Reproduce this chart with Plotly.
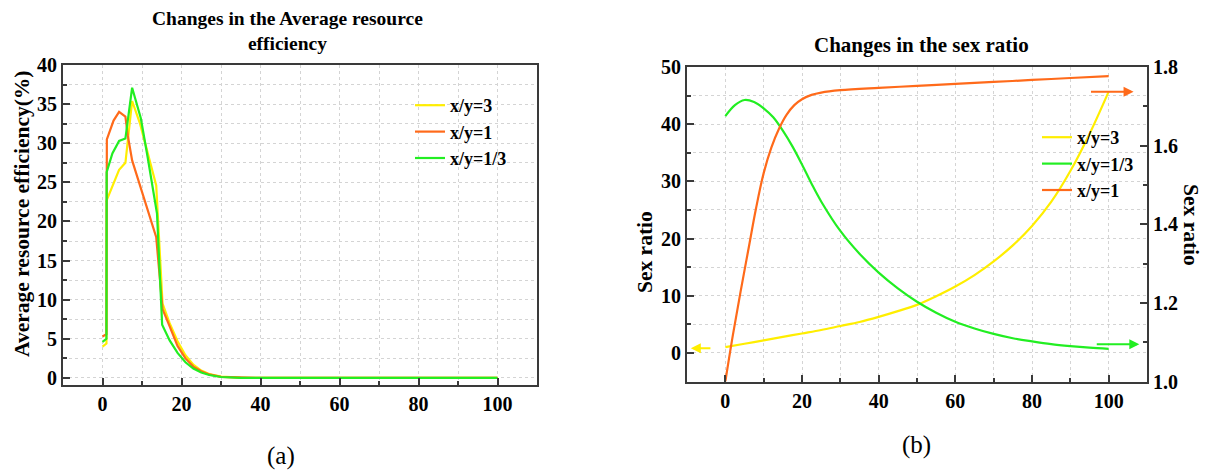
import plotly.graph_objects as go

W, H = 1210, 471
PAGE_OFFSET = 8  # default body margin of the html page
SERIF = "Liberation Serif"

# ---------------- Panel (a): Average resource efficiency (%) ----------------
a_ratio3_x = [0, 1, 1.05, 4.2, 5.8, 7.5, 9.5, 13.6, 15.2, 17, 19, 21, 23, 25, 27, 30, 35, 40, 100]
a_ratio3_y = [4.0, 4.4, 22.7, 26.6, 27.5, 35.4, 32.5, 24.6, 9.5, 7.0, 4.7, 2.9, 1.7, 0.95, 0.5, 0.17, 0.03, 0.0, 0.0]

a_ratio1_x = [0, 1, 1.1, 2.8, 4.2, 5.8, 6.4, 7.5, 13.6, 15.2, 17, 19, 21, 23, 25, 27, 30, 35, 40, 100]
a_ratio1_y = [5.3, 5.6, 30.5, 32.9, 34.0, 33.4, 31.0, 27.8, 18.0, 8.8, 6.6, 4.1, 2.5, 1.45, 0.85, 0.45, 0.15, 0.03, 0.0, 0.0]

a_ratio13_x = [0, 1, 1.05, 2.5, 4.2, 5.8, 7.5, 9.7, 11.4, 13.8, 15.1, 17, 19, 21, 23, 25, 27, 30, 35, 40, 100]
a_ratio13_y = [4.6, 5.0, 26.3, 28.7, 30.3, 30.6, 37.1, 33.2, 28.3, 21.0, 6.8, 4.8, 3.2, 2.0, 1.2, 0.7, 0.38, 0.12, 0.02, 0.0, 0.0]

# ---------------- Panel (b): Sex ratio ----------------
b_ratio3_x = [0, 5, 10, 15, 20, 25, 30, 35, 40, 45, 50, 55, 60, 65, 70, 75, 80, 85, 90, 95, 100]
b_ratio3_y = [1.0, 1.6, 2.2, 2.8, 3.4, 4.0, 4.7, 5.4, 6.3, 7.3, 8.4, 9.9, 11.6, 13.6, 16.0, 18.8,
              22.2, 26.4, 31.8, 38.3, 45.7]

b_ratio13_x = [0, 2.5, 5, 7.5, 10, 12.5, 15, 17.5, 20, 22.5, 25, 30, 35, 40, 45, 50, 55, 60, 65,
               70, 75, 80, 85, 90, 95, 100]
b_ratio13_y = [1.675, 1.703, 1.716, 1.711, 1.695, 1.672, 1.638, 1.598, 1.552, 1.503, 1.458, 1.383,
               1.325, 1.277, 1.237, 1.203, 1.175, 1.152, 1.135, 1.121, 1.110, 1.102, 1.095, 1.090,
               1.086, 1.083]

b_ratio1_x = [0, 2, 4, 6, 8, 10, 12, 14, 16, 18, 20, 22.5, 25, 30, 40, 50, 60, 70, 80, 90, 100]
b_ratio1_y = [1.0, 1.12, 1.23, 1.335, 1.44, 1.53, 1.595, 1.643, 1.679, 1.703, 1.718, 1.729, 1.735,
              1.741, 1.747, 1.752, 1.757, 1.762, 1.767, 1.772, 1.777]

# axis-indicator arrows (panel b): [tail_x, head_x, y]
arrow_ratio3 = [-3.5, -9.0, 0.8]     # points to left axis
arrow_ratio1 = [95.0, 106.5, 1.737]  # points to right axis
arrow_ratio13 = [96.5, 108.0, 1.095]  # points to right axis

YELLOW = "#FFEE00"
ORANGE = "#FF6A1A"
GREEN = "#22EE22"
AXC = "#3a3a3a"
GRID = "#d4d4d4"


def px(xp):
    return (xp - PAGE_OFFSET) / W


def py(yp):
    return 1 - (yp - PAGE_OFFSET) / H


fig = go.Figure()

line_w = 2.2
fig.add_trace(go.Scatter(x=a_ratio3_x, y=a_ratio3_y, mode="lines", name="x/y=3",
                         line=dict(color=YELLOW, width=line_w), xaxis="x", yaxis="y", legend="legend"))
fig.add_trace(go.Scatter(x=a_ratio1_x, y=a_ratio1_y, mode="lines", name="x/y=1",
                         line=dict(color=ORANGE, width=line_w), xaxis="x", yaxis="y", legend="legend"))
fig.add_trace(go.Scatter(x=a_ratio13_x, y=a_ratio13_y, mode="lines", name="x/y=1/3",
                         line=dict(color=GREEN, width=line_w), xaxis="x", yaxis="y", legend="legend"))

fig.add_trace(go.Scatter(x=b_ratio3_x, y=b_ratio3_y, mode="lines", name="x/y=3",
                         line=dict(color=YELLOW, width=line_w, shape="spline"),
                         xaxis="x2", yaxis="y2", legend="legend2"))
fig.add_trace(go.Scatter(x=b_ratio13_x, y=b_ratio13_y, mode="lines", name="x/y=1/3",
                         line=dict(color=GREEN, width=line_w, shape="spline"),
                         xaxis="x2", yaxis="y3", legend="legend2"))
fig.add_trace(go.Scatter(x=b_ratio1_x, y=b_ratio1_y, mode="lines", name="x/y=1",
                         line=dict(color=ORANGE, width=line_w, shape="spline"),
                         xaxis="x2", yaxis="y3", legend="legend2"))

tickfont = dict(family=SERIF, size=20, color="black", weight="bold")
common = dict(showline=True, linecolor=AXC, linewidth=2, ticks="inside", ticklen=7,
              tickwidth=1.5, tickcolor=AXC, tickfont=tickfont, showgrid=True, gridcolor=GRID,
              griddash="dot", gridwidth=1, zeroline=False, automargin=False)


def minor(d):
    return dict(dtick=d, ticks="inside", ticklen=4, tickcolor=AXC, showgrid=True,
                gridcolor=GRID, griddash="dot", gridwidth=1)


top_axis = dict(side="top", range=[-10, 110], tickmode="linear", tick0=0, dtick=20,
                ticks="inside", ticklen=7, tickwidth=1.5, tickcolor=AXC, showticklabels=False,
                showgrid=False, showline=False, zeroline=False, automargin=False,
                minor=dict(dtick=10, ticks="inside", ticklen=4, tickcolor=AXC, showgrid=False))

dom_a_x = [px(63), px(537)]
dom_a_y = [py(385), py(65)]
dom_b_x = [px(687), px(1147)]
dom_b_y = [py(381.5), py(67)]

legend_font = dict(family=SERIF, size=18, color="black", weight="bold")

fig.update_layout(
    width=W, height=H, margin=dict(l=0, r=0, t=0, b=0, autoexpand=False),
    paper_bgcolor="white", plot_bgcolor="white",
    xaxis=dict(domain=dom_a_x, anchor="y", range=[-10, 110], tickmode="linear", tick0=0, dtick=20,
               mirror=True, minor=minor(10), **common),
    yaxis=dict(domain=dom_a_y, anchor="x", range=[-0.9, 40], tickmode="linear", tick0=0, dtick=5,
               mirror=True, minor=minor(2.5), **common),
    xaxis3=dict(overlaying="x", anchor="y", **top_axis),
    xaxis2=dict(domain=dom_b_x, anchor="y2", range=[-10, 110], tickmode="linear", tick0=0, dtick=20,
                mirror=True, minor=minor(10), **common),
    yaxis2=dict(domain=dom_b_y, anchor="x2", range=[-5, 50], tickmode="linear", tick0=0, dtick=10,
                minor=minor(5), **common),
    yaxis3=dict(overlaying="y2", anchor="x2", side="right", range=[1.0, 1.8], tickmode="linear",
                tick0=1.0, dtick=0.2, tickformat=".1f", showline=True, linecolor=AXC, linewidth=2,
                ticks="inside", ticklen=7, tickwidth=1.5, tickcolor=AXC, tickfont=tickfont,
                showgrid=False, zeroline=False, automargin=False,
                minor=dict(dtick=0.1, ticks="inside", ticklen=4, tickcolor=AXC, showgrid=False)),
    xaxis4=dict(overlaying="x2", anchor="y2", **top_axis),
    legend=dict(x=px(410), y=py(87), xanchor="left", yanchor="top", bgcolor="rgba(0,0,0,0)",
                font=legend_font, itemwidth=30),
    legend2=dict(x=px(1037), y=py(119), xanchor="left", yanchor="top", bgcolor="rgba(0,0,0,0)",
                 font=legend_font, itemwidth=30),
)

ann = []
ann.append(dict(text="Changes in the Average resource<br>efficiency", x=px(287), y=py(31),
                xref="paper", yref="paper", showarrow=False,
                font=dict(family=SERIF, size=19.5, color="black", weight="bold"),
                xanchor="center", yanchor="middle"))
ann.append(dict(text="Changes in the sex ratio", x=px(922), y=py(45), xref="paper", yref="paper",
                showarrow=False, font=dict(family=SERIF, size=21, color="black", weight="bold"),
                xanchor="center", yanchor="middle"))
ann.append(dict(text="Average resource efficiency(%)", x=px(22), y=py(214), xref="paper",
                yref="paper", showarrow=False, textangle=-90,
                font=dict(family=SERIF, size=21.5, color="black", weight="bold"),
                xanchor="center", yanchor="middle"))
axis_title_font = dict(family=SERIF, size=21.5, color="black", weight="bold")
ann.append(dict(text="Sex ratio", x=px(645), y=py(252), xref="paper", yref="paper",
                showarrow=False, textangle=-90, font=axis_title_font,
                xanchor="center", yanchor="middle"))
ann.append(dict(text="Sex ratio", x=px(1191), y=py(225), xref="paper", yref="paper",
                showarrow=False, textangle=90, font=axis_title_font,
                xanchor="center", yanchor="middle"))
cap_font = dict(family=SERIF, size=25, color="black")
ann.append(dict(text="(a)", x=px(281), y=py(456), xref="paper", yref="paper", showarrow=False,
                font=cap_font, xanchor="center", yanchor="middle"))
ann.append(dict(text="(b)", x=px(916), y=py(445), xref="paper", yref="paper", showarrow=False,
                font=cap_font, xanchor="center", yanchor="middle"))

for (tail_x, head_x, yv), yref, col in [(arrow_ratio3, "y2", YELLOW), (arrow_ratio1, "y3", ORANGE),
                                         (arrow_ratio13, "y3", GREEN)]:
    ann.append(dict(x=head_x, y=yv, ax=tail_x, ay=yv, xref="x2", yref=yref, axref="x2", ayref=yref,
                    text="", showarrow=True, arrowhead=2, arrowsize=1, arrowwidth=2,
                    arrowcolor=col))

fig.update_layout(annotations=ann)
fig.write_html("out.html")
